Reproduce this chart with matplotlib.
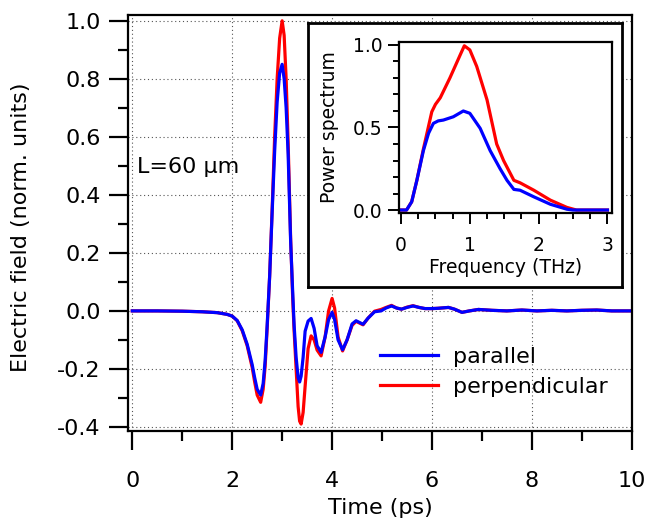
import numpy as np
import matplotlib
matplotlib.use("Agg")
import matplotlib.pyplot as plt
from matplotlib.ticker import MultipleLocator

# time-domain traces (ps, normalised field)
t_ps = [0, 0.5, 1.0, 1.4, 1.7, 1.9, 2.0, 2.1, 2.2, 2.3,
        2.4, 2.45, 2.5, 2.57, 2.62, 2.66, 2.7, 2.75, 2.8, 2.85,
        2.9, 2.95, 3.0, 3.04, 3.08, 3.12, 3.17, 3.21, 3.24, 3.28,
        3.32, 3.35, 3.38, 3.42, 3.46, 3.52, 3.58, 3.64, 3.7, 3.78,
        3.86, 3.93, 4.0, 4.05, 4.12, 4.21, 4.3, 4.4, 4.48, 4.55,
        4.62, 4.72, 4.85, 4.98, 5.08, 5.19, 5.29, 5.39, 5.5, 5.62,
        5.74, 5.86, 6.0, 6.12, 6.33, 6.45, 6.6, 6.75, 6.93, 7.2,
        7.5, 7.8, 8.1, 8.4, 8.7, 9.0, 9.3, 9.6, 10.0]

field_par = [0, 0, -0.001, -0.003, -0.006, -0.012, -0.018, -0.033, -0.065, -0.115,
             -0.185, -0.23, -0.27, -0.29, -0.25, -0.17, -0.05, 0.12, 0.34, 0.55,
             0.72, 0.82, 0.85, 0.8, 0.7, 0.54, 0.24, 0.07, -0.05, -0.16,
             -0.23, -0.245, -0.225, -0.16, -0.07, -0.035, -0.026, -0.06, -0.12, -0.143,
             -0.09, -0.03, -0.005, -0.03, -0.1, -0.134, -0.1, -0.045, -0.034, -0.04,
             -0.046, -0.025, -0.003, 0.0, 0.01, 0.017, 0.01, 0.006, 0.012, 0.017,
             0.012, 0.008, 0.008, 0.009, 0.012, 0.006, -0.005, 0.0, 0.005, 0.002,
             0.0, 0.003, 0.0, 0.002, 0.0, 0.002, 0.003, 0.0, 0.0]

field_perp = [0, 0, -0.001, -0.003, -0.006, -0.012, -0.018, -0.034, -0.068, -0.12,
              -0.195, -0.245, -0.29, -0.315, -0.27, -0.19, -0.06, 0.12, 0.35, 0.6,
              0.8, 0.94, 1.0, 0.95, 0.8, 0.58, 0.25, 0.05, -0.07, -0.2,
              -0.33, -0.38, -0.39, -0.35, -0.26, -0.13, -0.086, -0.1, -0.135, -0.155,
              -0.09, 0.0, 0.043, 0.01, -0.09, -0.138, -0.1, -0.05, -0.036, -0.042,
              -0.048, -0.025, -0.001, 0.005, 0.012, 0.019, 0.01, 0.006, 0.013, 0.018,
              0.012, 0.008, 0.008, 0.009, 0.012, 0.006, -0.005, 0.0, 0.005, 0.002,
              0.0, 0.003, 0.0, 0.002, 0.0, 0.002, 0.003, 0.0, 0.0]

# power spectra (THz)
f_par = [0, 0.08, 0.155, 0.23, 0.325, 0.4, 0.47, 0.54, 0.615, 0.76,
         0.905, 1.0, 1.15, 1.295, 1.44, 1.54, 1.64, 1.73, 1.93, 2.17,
         2.41, 2.5, 3.0]
spec_par = [0, 0.0, 0.05, 0.18, 0.36, 0.465, 0.525, 0.54, 0.545, 0.565,
            0.6, 0.586, 0.495, 0.36, 0.25, 0.18, 0.125, 0.12, 0.08, 0.035,
            0.005, 0, 0]

f_perp = [0, 0.08, 0.155, 0.23, 0.325, 0.447, 0.5, 0.57, 0.71, 0.86,
          0.92, 1.0, 1.1, 1.25, 1.39, 1.49, 1.64, 1.73, 1.93, 2.17,
          2.41, 2.55, 3.0]
spec_perp = [0, 0.0, 0.05, 0.18, 0.37, 0.595, 0.64, 0.68, 0.8, 0.94,
             0.995, 0.97, 0.87, 0.667, 0.4, 0.3, 0.18, 0.165, 0.12, 0.06,
             0.016, 0, 0]

BLUE = "#0000ff"
RED = "#ff0000"
FS = 16

fig = plt.figure(figsize=(6.46, 5.28), dpi=100)
ax = fig.add_axes([0.1986, 0.1837, 0.7794, 0.7879])

ax.plot(t_ps, field_perp, color=RED, lw=2.3, label="perpendicular")
ax.plot(t_ps, field_par, color=BLUE, lw=2.3, label="parallel")

ax.set_xlim(-0.08, 10.0)
ax.set_ylim(-0.414, 1.02)
ax.set_xticks([0, 2, 4, 6, 8, 10])
ax.set_xticklabels(["0", "2", "4", "6", "8", "10"])
ax.set_yticks([-0.4, -0.2, 0.0, 0.2, 0.4, 0.6, 0.8, 1.0])
ax.set_yticklabels(["-0.4", "-0.2", "0.0", "0.2", "0.4", "0.6", "0.8", "1.0"])
ax.xaxis.set_minor_locator(MultipleLocator(1))
ax.yaxis.set_minor_locator(MultipleLocator(0.1))
ax.tick_params(which="major", direction="out", length=14, width=1.6, labelsize=FS)
ax.tick_params(which="minor", direction="out", length=7.5, width=1.6)
ax.tick_params(axis="x", which="major", pad=15)
ax.tick_params(axis="y", which="major", pad=6)
for s in ax.spines.values():
    s.set_linewidth(1.6)
ax.grid(True, which="major", linestyle=(0, (1, 2.5)), color="#555555", lw=0.8)
ax.set_xlabel("Time (ps)", fontsize=FS, labelpad=5)
ax.set_ylabel("Electric field (norm. units)", fontsize=FS)
ax.yaxis.set_label_coords(-0.193, 0.49)

ax.text(0.017, 0.635, "L=60 \u03bcm", transform=ax.transAxes, fontsize=FS,
        va="center", ha="left")

h, l = ax.get_legend_handles_labels()
ax.legend(h[::-1], l[::-1], loc="upper left", bbox_to_anchor=(0.4997, 0.203),
          frameon=False, fontsize=FS, handlelength=2.6, handletextpad=0.7,
          labelspacing=0.45, borderaxespad=0.0, borderpad=0.0)

# inset frame
box = fig.add_axes([0.4768, 0.4564, 0.486, 0.5])
box.patch.set_facecolor("white")
box.patch.set_alpha(1.0)
box.set_xticks([])
box.set_yticks([])
for s in box.spines.values():
    s.set_linewidth(2.0)
box.set_zorder(5)

ins = fig.add_axes([0.6176, 0.5972, 0.3302, 0.3239])
ins.set_zorder(6)
ins.patch.set_facecolor("white")
ins.plot(f_perp, spec_perp, color=RED, lw=2.3)
ins.plot(f_par, spec_par, color=BLUE, lw=2.3)
ins.set_xlim(-0.03, 3.07)
ins.set_ylim(-0.016, 1.02)
ins.set_xticks([0, 1, 2, 3])
ins.set_yticks([0.0, 0.5, 1.0])
ins.set_yticklabels(["0.0", "0.5", "1.0"])
ins.xaxis.set_minor_locator(MultipleLocator(0.25))
ins.yaxis.set_minor_locator(MultipleLocator(0.1))
ins.tick_params(which="major", direction="out", length=8, width=1.4, labelsize=13.5)
ins.tick_params(which="minor", direction="out", length=4.5, width=1.4)
ins.tick_params(axis="x", pad=9)
ins.tick_params(axis="y", pad=4)
for s in ins.spines.values():
    s.set_linewidth(1.6)
ins.set_xlabel("Frequency (THz)", fontsize=13.5, labelpad=2)
ins.set_ylabel("Power spectrum", fontsize=13.5, labelpad=10)

fig.savefig("out.png", dpi=100)
